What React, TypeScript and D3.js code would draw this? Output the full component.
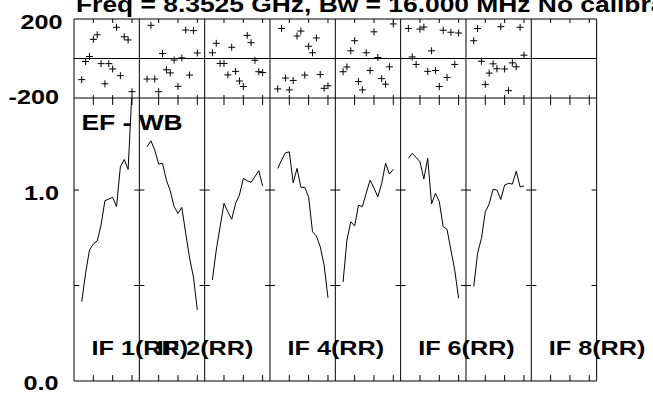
import React from "react";
import * as d3 from "d3";

const W = 653;
const H = 394;

const channels = [2, 3, 4, 5, 6, 7, 8, 9, 10, 11, 12, 13, 14, 15];
const ifNames = ["IF 1(RR)", "IF 2(RR)", "IF 3(RR)", "IF 4(RR)", "IF 5(RR)", "IF 6(RR)", "IF 7(RR)", "IF 8(RR)"];
const visibleLabels = [0, 1, 3, 5, 7];

const phaseIF1 = [-107, -15, 10, 97, 120, -26, -128, -26, -53, 158, -87, 110, 94, -168];
const phaseIF2 = [-104, 168, -104, -168, 25, -57, -73, -8, -141, 3, 144, -84, 141, 28];
const phaseIF3 = [29, 77, -25, -25, -83, 57, -65, -114, -142, 117, 80, -9, -67, -71];
const phaseIF4 = [-154, 152, -99, -159, -111, 114, 139, -84, 62, 29, 104, -81, -151, -138];
const phaseIF5 = [-67, -43, 39, 90, -117, -159, 29, -61, 135, 5, -102, -130, -42, 175];
const phaseIF6 = [152, 8, -30, 149, 159, -65, 39, -61, -142, 143, -96, 133, -30, 129];
const phaseIF7 = [90, 152, -14, -131, -74, -27, -52, 161, -53, -163, -22, -42, 158, 17];
const phaseIF8: number[] = [];

const ampIF1 = [0.415, 0.564, 0.686, 0.717, 0.733, 0.817, 0.944, 0.953, 0.962, 0.913, 1.122, 1.16, 1.108, 1.52];
const ampIF2 = [1.227, 1.258, 1.209, 1.136, 1.14, 1.052, 0.996, 0.913, 0.878, 0.909, 0.773, 0.644, 0.545, 0.372];
const ampIF3 = [0.529, 0.686, 0.808, 0.93, 0.886, 0.847, 0.93, 0.974, 1.061, 1.049, 1.04, 1.07, 1.101, 1.021];
const ampIF4 = [1.113, 1.157, 1.195, 1.2, 1.038, 1.113, 1.014, 1.014, 0.962, 0.782, 0.759, 0.703, 0.607, 0.435];
const ampIF5 = [0.518, 0.738, 0.834, 0.812, 0.921, 0.913, 0.984, 1.052, 1.01, 0.965, 1.035, 1.14, 1.084, 1.108];
const ampIF6 = [1.166, 1.192, 1.171, 1.148, 1.058, 1.166, 0.927, 0.983, 0.939, 0.808, 0.794, 0.686, 0.58, 0.433];
const ampIF7 = [0.494, 0.668, 0.747, 0.886, 0.927, 1.004, 1.0, 0.951, 1.026, 1.035, 1.031, 1.099, 1.017, 1.021];
const ampIF8: number[] = [];

const phases = [phaseIF1, phaseIF2, phaseIF3, phaseIF4, phaseIF5, phaseIF6, phaseIF7, phaseIF8];
const amps = [ampIF1, ampIF2, ampIF3, ampIF4, ampIF5, ampIF6, ampIF7, ampIF8];

const xTicks = [5, 10, 15];
const ampTicks = [0.5, 1.0];
const title = "Freq = 8.3525 GHz, Bw = 16.000 MHz   No calibration";

const X0 = 74;
const PW = 65.33;
const TOP = 19;
const MID = 98;
const BOT = 381;
const FONT = "'Liberation Sans', Arial, Helvetica, sans-serif";
const SX = 1.2;

function Txt({ x, y, size, anchor = "start", children }: any) {
  return (
    <text
      transform={`translate(${x},${y}) scale(${SX},1)`}
      fontFamily={FONT}
      fontWeight="bold"
      fontSize={size}
      textAnchor={anchor}
      fill="#000"
    >
      {children}
    </text>
  );
}

export default function App() {
  const yPhase = d3.scaleLinear().domain([-200, 200]).range([MID, TOP]);
  const yAmp = d3.scaleLinear().domain([0, 1.482]).range([BOT, MID]);
  const panels = d3.range(8);
  const xFor = (p: number) =>
    d3.scaleLinear().domain([0, 16.9]).range([X0 + p * PW, X0 + (p + 1) * PW]);

  const right = X0 + 8 * PW;

  return (
    <svg
      width={W}
      height={H}
      style={{ position: "absolute", left: 0, top: 0, background: "#fff" }}
    >
      <defs>
        <clipPath id="ampClip">
          <rect x={X0} y={MID} width={8 * PW} height={BOT - MID} />
        </clipPath>
      </defs>
      <rect x={0} y={0} width={W} height={H} fill="#fff" />

      {/* title */}
      <Txt x={76} y={12} size={22}>{title}</Txt>

      {/* frames */}
      <g stroke="#000" strokeWidth={1} fill="none">
        <line x1={X0} x2={right} y1={TOP} y2={TOP} />
        <line x1={X0} x2={right} y1={yPhase(0)} y2={yPhase(0)} />
        <line x1={X0} x2={right} y1={MID} y2={MID} />
        <line x1={X0} x2={right} y1={BOT} y2={BOT} />
        {d3.range(9).map((i) => (
          <line key={i} x1={X0 + i * PW} x2={X0 + i * PW} y1={TOP} y2={BOT} />
        ))}
        {panels.map((p) => {
          const xs = xFor(p);
          return (
            <g key={p}>
              {xTicks.map((t) => (
                <g key={t}>
                  <line x1={xs(t)} x2={xs(t)} y1={TOP} y2={TOP + 4} />
                  <line x1={xs(t)} x2={xs(t)} y1={MID - 3} y2={MID + 7} />
                  <line x1={xs(t)} x2={xs(t)} y1={BOT} y2={BOT - 6} />
                </g>
              ))}
            </g>
          );
        })}
        {d3.range(9).map((i) =>
          ampTicks.map((t) => (
            <line
              key={i + "-" + t}
              x1={X0 + i * PW - (i === 0 ? 0 : 5)}
              x2={X0 + i * PW + (i === 8 ? 0 : 5)}
              y1={yAmp(t)}
              y2={yAmp(t)}
            />
          ))
        )}
      </g>

      {/* phase points */}
      <g stroke="#000" strokeWidth={1}>
        {panels.map((p) => {
          const xs = xFor(p);
          return phases[p].map((v, i) => {
            const cx = xs(channels[i]);
            const cy = yPhase(v);
            return (
              <g key={p + "-" + i}>
                <line x1={cx - 3.5} x2={cx + 3.5} y1={cy} y2={cy} />
                <line x1={cx} x2={cx} y1={cy - 3.5} y2={cy + 3.5} />
              </g>
            );
          });
        })}
      </g>

      {/* amplitude lines */}
      <g clipPath="url(#ampClip)" fill="none" stroke="#000" strokeWidth={1}>
        {panels.map((p) => {
          const xs = xFor(p);
          const line = d3
            .line<number>()
            .x((_, i) => xs(channels[i]))
            .y((d) => yAmp(d));
          return amps[p].length ? <path key={p} d={line(amps[p]) || ""} /> : null;
        })}
      </g>

      {/* axis labels */}
      <Txt x={62.5} y={29} size={21} anchor="end">200</Txt>
      <Txt x={59} y={103.5} size={21} anchor="end">-200</Txt>
      <Txt x={59} y={200} size={21} anchor="end">1.0</Txt>
      <Txt x={58.5} y={390} size={21} anchor="end">0.0</Txt>

      <Txt x={81.5} y={129.5} size={22}>EF - WB</Txt>

      {visibleLabels.map((p) => (
        <Txt key={p} x={X0 + p * PW + 17.5} y={355} size={21}>
          {ifNames[p]}
        </Txt>
      ))}
    </svg>
  );
}
